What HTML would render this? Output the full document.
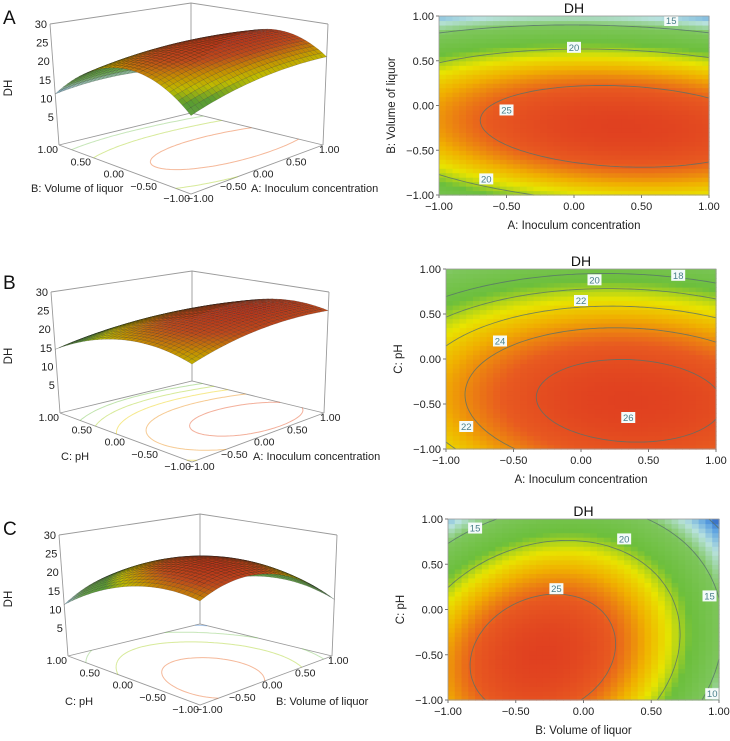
<!DOCTYPE html>
<html><head><meta charset="utf-8">
<style>
html,body{margin:0;padding:0;background:#fff;}
svg{display:block;font-family:"Liberation Sans",Arial,sans-serif;}
</style></head>
<body>
<svg id="fig" width="730" height="741" viewBox="0 0 730 741" xmlns="http://www.w3.org/2000/svg"></svg>
<script>
// ---- data ----
// quadratic model coefficients: [b0, bX, bY, bXX, bYY, bXY]
const coefA = [26.3, 1.0, -4.0, -1.8, -9.5, -1.2];
const coefB = [25.8, 1.2, -4.0, -2.0, -4.5, -0.5];
const coefC = [25.5, -3.2, -3.9, -7.0, -4.5, 2.0];
const levelsA = [15, 20, 25];
const levelsB = [18, 20, 22, 24, 26];
const levelsC = [10, 15, 20, 25];
// contour labels: [value, x, y] in coded units
const labelsA = [[15, 0.72, 0.95], [20, 0.0, 0.65], [25, -0.5, -0.05], [20, -0.65, -0.82]];
const labelsB = [[18, 0.72, 0.93], [20, 0.1, 0.88], [22, 0.0, 0.65], [24, -0.6, 0.2], [26, 0.35, -0.65], [22, -0.85, -0.75]];
const labelsC = [[15, -0.8, 0.9], [20, 0.3, 0.78], [25, -0.2, 0.23], [15, 0.93, 0.15], [10, 0.95, -0.93]];
const tickVals = [-1, -0.5, 0, 0.5, 1];
const tickLabels = ["\u22121.00", "\u22120.50", "0.00", "0.50", "1.00"];
const zTicks = [5, 10, 15, 20, 25, 30];
const colorRange = [9, 27];
const panelLetters = ["A", "B", "C"];
const xTitles = ["A: Inoculum concentration", "A: Inoculum concentration", "B: Volume of liquor"];
const yTitles = ["B: Volume of liquor", "C: pH", "C: pH"];

const NS = "http://www.w3.org/2000/svg";
const svg = document.getElementById("fig");
function el(tag, attrs, parent) {
  const e = document.createElementNS(NS, tag);
  for (const k in attrs) e.setAttribute(k, attrs[k]);
  (parent || svg).appendChild(e);
  return e;
}
function model(c, x, y) { return c[0] + c[1]*x + c[2]*y + c[3]*x*x + c[4]*y*y + c[5]*x*y; }
const stops = [[0,[40,90,190]],[0.08,[90,160,225]],[0.2,[184,226,222]],[0.34,[126,198,92]],[0.55,[108,191,60]],[0.68,[232,228,0]],[0.78,[240,176,0]],[0.9,[232,90,32]],[1,[224,64,32]]];
function cmap(v, dark) {
  let t = (v - colorRange[0]) / (colorRange[1] - colorRange[0]);
  t = Math.max(0, Math.min(1, t));
  let i = 0; while (i < stops.length - 2 && t > stops[i+1][0]) i++;
  const a = stops[i], b = stops[i+1], f = (t - a[0]) / (b[0] - a[0]);
  const k = dark || 1;
  const c = [0,1,2].map(j => Math.round((a[1][j] + (b[1][j]-a[1][j])*f) * k));
  return "rgb(" + c.join(",") + ")";
}
function contourSegs(c, level, N) {
  const segs = [];
  const h = 2 / N;
  for (let i = 0; i < N; i++) for (let j = 0; j < N; j++) {
    const x0 = -1 + i*h, y0 = -1 + j*h;
    const P = [[x0,y0],[x0+h,y0],[x0+h,y0+h],[x0,y0+h]];
    const V = P.map(p => model(c, p[0], p[1]) - level);
    const pts = [];
    for (let e = 0; e < 4; e++) {
      const a = e, b = (e+1)%4;
      if ((V[a] < 0) !== (V[b] < 0)) {
        const f = V[a] / (V[a] - V[b]);
        pts.push([P[a][0] + (P[b][0]-P[a][0])*f, P[a][1] + (P[b][1]-P[a][1])*f]);
      }
    }
    if (pts.length >= 2) segs.push([pts[0], pts[1]]);
    if (pts.length === 4) segs.push([pts[2], pts[3]]);
  }
  return segs;
}

// ---------- heatmap panels ----------
const heatBoxes = [[439,709,16,195],[446,716,269,449],[448,719,519,700]];
const coefs = [coefA, coefB, coefC];
const levels = [levelsA, levelsB, levelsC];
const clabels = [labelsA, labelsB, labelsC];

for (let p = 0; p < 3; p++) {
  const [X0, X1, Y0, Y1] = heatBoxes[p];
  const sx = v => X0 + (v + 1) / 2 * (X1 - X0);
  const sy = v => Y1 - (v + 1) / 2 * (Y1 - Y0);
  const g = el("g", {});
  
  
  const N = 40, cw = (X1-X0)/N, ch = (Y1-Y0)/N;
  for (let i = 0; i < N; i++) for (let j = 0; j < N; j++) {
    const x = -1 + (i + 0.5) * 2 / N, y = -1 + (j + 0.5) * 2 / N;
    const r = el("rect", {x: (X0 + i*cw).toFixed(2), y: (Y1 - (j+1)*ch).toFixed(2), width: (cw+0.6).toFixed(2), height: (ch+0.6).toFixed(2), fill: cmap(model(coefs[p], x, y))}, g);
    
    
  }
  levels[p].forEach(lv => {
    let d = "";
    contourSegs(coefs[p], lv, 60).forEach(s => { d += "M" + sx(s[0][0]).toFixed(1) + " " + sy(s[0][1]).toFixed(1) + "L" + sx(s[1][0]).toFixed(1) + " " + sy(s[1][1]).toFixed(1); });
    const path = el("path", {d: d, stroke: "#56706c", "stroke-width": 0.9, fill: "none", opacity: 0.8}, g);
    
    
  });
  clabels[p].forEach(L => {
    const cx = sx(L[1]), cy = sy(L[2]);
    const bg = el("rect", {x: cx-7, y: cy-5.5, width: 14, height: 11, fill: "#f4fbfa"}, g);
    
    
    const t = el("text", {x: cx, y: cy+3.5, "font-size": 9.5, "text-anchor": "middle", fill: "#4a7f8a"}, g);
    t.textContent = L[0];
    
    
  });
  const fr = el("rect", {x: X0, y: Y0, width: X1-X0, height: Y1-Y0, fill: "none", stroke: "#999", "stroke-width": 0.8}, g);
  
  
  tickVals.forEach((v, k) => {
    el("line", {x1: sx(v), x2: sx(v), y1: Y1, y2: Y1+3, stroke: "#777"}, g);
    el("line", {x1: X0-3, x2: X0, y1: sy(v), y2: sy(v), stroke: "#777"}, g);
    const tx = el("text", {x: sx(v), y: Y1+15, "font-size": 11, "text-anchor": "middle", fill: "#222"}, g);
    tx.textContent = tickLabels[k];
    
    
    const ty = el("text", {x: X0-5, y: sy(v)+4, "font-size": 11, "text-anchor": "end", fill: "#222"}, g);
    ty.textContent = tickLabels[k];
    
    
  });
  const tt = el("text", {x: (X0+X1)/2, y: Y0-3, "font-size": 14, "text-anchor": "middle", fill: "#111"}, g);
  tt.textContent = "DH";
  
  
  const xt = el("text", {x: (X0+X1)/2, y: Y1+34, "font-size": 11.5, "text-anchor": "middle", fill: "#222"}, g);
  xt.textContent = xTitles[p];
  
  
  const yx = X0 - 44, yy = (Y0+Y1)/2;
  const yt = el("text", {x: yx, y: yy, "font-size": 11.5, "text-anchor": "middle", fill: "#222", transform: "rotate(-90 " + yx + " " + yy + ")"}, g);
  yt.textContent = yTitles[p];
  
  
}

// ---------- 3D surface panels ----------
const floorC = {F:[191,194], R:[323,145], L:[59,145], K:[191,113]};
const topC = {F:[191,62], R:[328,24], L:[50,24], K:[191,3]};
const offsets = [[0,0],[1,268],[9,511]];
const letterY = [24, 289, 535];
const zFloor = -2.5, zTop = 30;
function bil(C, a, b) {
  const u = (a+1)/2, v = (b+1)/2;
  return [0,1].map(k => C.F[k]*(1-u)*(1-v) + C.R[k]*u*(1-v) + C.L[k]*(1-u)*v + C.K[k]*u*v);
}
for (let p = 0; p < 3; p++) {
  const [dx, dy] = offsets[p];
  const proj = (a, b, z) => {
    const f = bil(floorC, a, b), t = bil(topC, a, b);
    const s = (z - zFloor) / (zTop - zFloor);
    return [dx + f[0] + (t[0]-f[0])*s, dy + f[1] + (t[1]-f[1])*s];
  };
  const P = (q) => q[0].toFixed(1) + "," + q[1].toFixed(1);
  const g = el("g", {});
  
  
  const box = [[-1,1],[1,1],[1,-1]];
  let d = "M" + P(proj(-1,1,zFloor)) + "L" + P(proj(1,1,zFloor)) + "L" + P(proj(1,-1,zFloor)) +
          "M" + P(proj(-1,1,zFloor)) + "L" + P(proj(-1,-1,zFloor)) + "L" + P(proj(1,-1,zFloor)) +
          "M" + P(proj(-1,1,zTop)) + "L" + P(proj(1,1,zTop)) + "L" + P(proj(1,-1,zTop));
  box.forEach(c => { d += "M" + P(proj(c[0],c[1],zFloor)) + "L" + P(proj(c[0],c[1],zTop)); });
  const bx = el("path", {d: d, stroke: "#9a9a9a", "stroke-width": 0.9, fill: "none"}, g);
  
  
  levels[p].forEach(lv => {
    let dd = "";
    contourSegs(coefs[p], lv, 50).forEach(s => { dd += "M" + P(proj(s[0][0], s[0][1], zFloor)) + "L" + P(proj(s[1][0], s[1][1], zFloor)); });
    const fc = el("path", {d: dd, stroke: cmap(lv), "stroke-width": 1, fill: "none", opacity: 0.45}, g);
    
    
  });
  zTicks.forEach(z => {
    const q = proj(-1, 1, z);
    const t = el("text", {x: q[0]-3, y: q[1]+4, "font-size": 11, "text-anchor": "end", fill: "#222"}, g);
    t.textContent = z;
    
    
  });
  tickVals.forEach((v, k) => {
    const qa = proj(v, -1, zFloor);
    const ta = el("text", {x: qa[0]-4, y: qa[1]+8, "font-size": 10.5, "text-anchor": "start", fill: "#222"}, g);
    ta.textContent = tickLabels[k];
    
    
    const qb = proj(-1, v, zFloor);
    const tb = el("text", {x: qb[0]-1, y: qb[1]+8, "font-size": 10.5, "text-anchor": "end", fill: "#222"}, g);
    tb.textContent = tickLabels[k];
    
    
  });
  const N = 32, h = 2 / N, quads = [];
  for (let i = 0; i < N; i++) for (let j = 0; j < N; j++) quads.push([-1 + i*h, -1 + j*h]);
  quads.sort((q1, q2) => (q2[0]+q2[1]) - (q1[0]+q1[1]));
  const sg = el("g", {}, g);
  
  
  quads.forEach(q => {
    const [a0, b0] = q;
    const c = [[a0,b0],[a0+h,b0],[a0+h,b0+h],[a0,b0+h]];
    const pts = c.map(cc => P(proj(cc[0], cc[1], model(coefs[p], cc[0], cc[1]))));
    const v = model(coefs[p], a0 + h/2, b0 + h/2);
    const poly = el("polygon", {points: pts.join(" "), fill: cmap(v, 0.82), stroke: "rgba(20,20,20,0.4)", "stroke-width": 0.35}, sg);
    
    
  });
  const letter = el("text", {x: 3, y: letterY[p], "font-size": 19, fill: "#111"}, g);
  letter.textContent = panelLetters[p];
  
  
  const zx = 12, zy = 88 + dy;
  const zt = el("text", {x: zx, y: zy, "font-size": 11.5, "text-anchor": "middle", fill: "#222", transform: "rotate(-90 " + zx + " " + zy + ")"}, g);
  zt.textContent = "DH";
  
  
  const titleY = [192, 460, 705][p];
  const lt = el("text", {x: [31, 61, 65][p], y: titleY, "font-size": 11, fill: "#222"}, g);
  lt.textContent = yTitles[p];
  
  
  const rt = el("text", {x: [251, 253, 276][p], y: titleY, "font-size": 11, fill: "#222"}, g);
  rt.textContent = xTitles[p];
  
  
}
</script>
</body></html>
